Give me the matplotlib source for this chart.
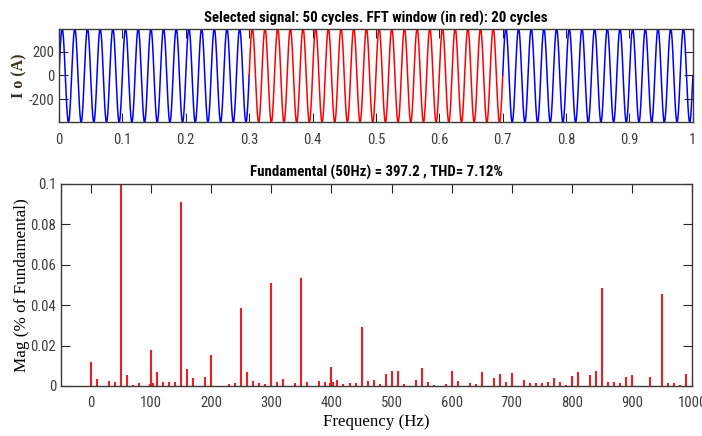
import numpy as np
import matplotlib
matplotlib.use("Agg")
import matplotlib.pyplot as plt

plt.rcParams["axes.unicode_minus"] = False

# ---------------- data ----------------
fund_freq = 50.0
fund_mag = 397.2
thd = 7.12
sig_t0, sig_t1 = 0.0, 1.0
win_t0, win_t1 = 0.3, 0.7
top_xticks = [0, 0.1, 0.2, 0.3, 0.4, 0.5, 0.6, 0.7, 0.8, 0.9, 1]
top_xticklabels = ["0", "0.1", "0.2", "0.3", "0.4", "0.5", "0.6", "0.7", "0.8", "0.9", "1"]
top_yticks = [-200, 0, 200]

freqs = [0, 10, 30, 40, 50, 60, 70, 80, 97.5, 100, 102.5, 110, 120, 130, 140, 150,
         160, 170, 190, 200, 230, 240, 250, 260, 270, 280, 290, 300, 310, 320, 340,
         350, 360, 380, 390, 397.5, 400, 402.5, 410, 420, 430, 440, 450, 460, 470,
         480, 490, 500, 510, 520, 540, 550, 560, 570, 590, 600, 610, 630, 640, 650,
         670, 680, 690, 700, 720, 730, 740, 750, 760, 770, 780, 790, 800, 810, 830,
         840, 850, 860, 870, 880, 890, 900, 930, 950, 960, 970, 980, 990]
mags = [0.0118, 0.0036, 0.0026, 0.0019, 1.0, 0.0052, 0.0006, 0.0017, 0.0012, 0.0178,
        0.0013, 0.0068, 0.0018, 0.0022, 0.0020, 0.0911, 0.0082, 0.0040, 0.0044, 0.0152,
        0.0011, 0.0013, 0.0385, 0.0070, 0.0023, 0.0014, 0.0008, 0.0512, 0.0021, 0.0034,
        0.0016, 0.0535, 0.0022, 0.0027, 0.0021, 0.0015, 0.0092, 0.0018, 0.0029, 0.0008,
        0.0016, 0.0016, 0.0294, 0.0024, 0.0032, 0.0008, 0.0058, 0.0074, 0.0075, 0.0011,
        0.0028, 0.0087, 0.0021, 0.0005, 0.0012, 0.0075, 0.0025, 0.0017, 0.0008, 0.0070,
        0.0042, 0.0058, 0.0021, 0.0062, 0.0028, 0.0017, 0.0017, 0.0017, 0.0020, 0.0038,
        0.0020, 0.0004, 0.0050, 0.0067, 0.0053, 0.0075, 0.0485, 0.0021, 0.0019, 0.0017,
        0.0045, 0.0052, 0.0045, 0.0455, 0.0013, 0.0017, 0.0006, 0.0058]
bot_xticks = [0, 100, 200, 300, 400, 500, 600, 700, 800, 900, 1000]
bot_yticks = [0, 0.02, 0.04, 0.06, 0.08, 0.1]
bot_yticklabels = ["0", "0.02", "0.04", "0.06", "0.08", "0.1"]

# ---------------- style ----------------
narrow = ["Roboto Condensed", "Liberation Sans", "DejaVu Sans"]
serif = ["Liberation Serif", "DejaVu Serif"]
spine_col = "#3a3a3a"
tick_col = "#262626"
label_col = "#3c3c3c"

fig = plt.figure(figsize=(7.02, 4.36), dpi=100)

def style_axes(ax):
    for s in ax.spines.values():
        s.set_color(spine_col)
        s.set_linewidth(1.0)
    ax.tick_params(direction="in", length=6.5, width=0.8, color=tick_col,
                   top=True, right=True, labelsize=10.5, labelcolor=label_col)
    for lab in ax.get_xticklabels() + ax.get_yticklabels():
        lab.set_family(narrow)

# ---------------- top: signal ----------------
ax1 = fig.add_axes([0.084, 0.7195, 0.903, 0.215])
t = np.linspace(sig_t0, sig_t1, 20001)
sig = fund_mag * np.sin(2 * np.pi * fund_freq * t)
m_pre = t <= win_t0
m_win = (t >= win_t0) & (t <= win_t1)
m_post = t >= win_t1
ax1.plot(t[m_pre], sig[m_pre], color="#0000ff", lw=1.1)
ax1.plot(t[m_post], sig[m_post], color="#0000ff", lw=1.1)
ax1.plot(t[m_win], sig[m_win], color="#ff0000", lw=1.1)
ax1.set_xlim(sig_t0, sig_t1)
ax1.set_ylim(-fund_mag, fund_mag)
ax1.set_xticks(top_xticks)
ax1.set_xticklabels(top_xticklabels)
ax1.set_yticks(top_yticks)
style_axes(ax1)
ax1.tick_params(axis="x", pad=8)
ax1.set_ylabel("I o (A)", family=serif, fontsize=11.5, fontweight="bold",
               color="#3a3020", labelpad=1)
ax1.set_title("Selected signal: 50 cycles. FFT window (in red): 20 cycles",
              family=narrow, fontsize=10.7, fontweight="bold", pad=4)

# ---------------- bottom: spectrum ----------------
ax2 = fig.add_axes([0.0869, 0.1147, 0.899, 0.4633])
ax2.vlines(freqs, 0, mags, color="#ee1c24", linewidth=1.5)
ax2.set_xlim(-50, 1000)
ax2.set_ylim(0, 0.1)
ax2.set_xticks(bot_xticks)
ax2.set_yticks(bot_yticks)
ax2.set_yticklabels(bot_yticklabels)
style_axes(ax2)
ax2.tick_params(axis="x", pad=7)
ax2.set_xlabel("Frequency (Hz)", family=serif, fontsize=12.2, labelpad=3)
ax2.set_ylabel("Mag (% of Fundamental)", family=serif, fontsize=12.3, labelpad=0)
ax2.set_title("Fundamental (50Hz) = %.1f , THD= %.2f%%" % (fund_mag, thd),
              family=narrow, fontsize=10.7, fontweight="bold", pad=5)

fig.savefig("out.png", dpi=100)
